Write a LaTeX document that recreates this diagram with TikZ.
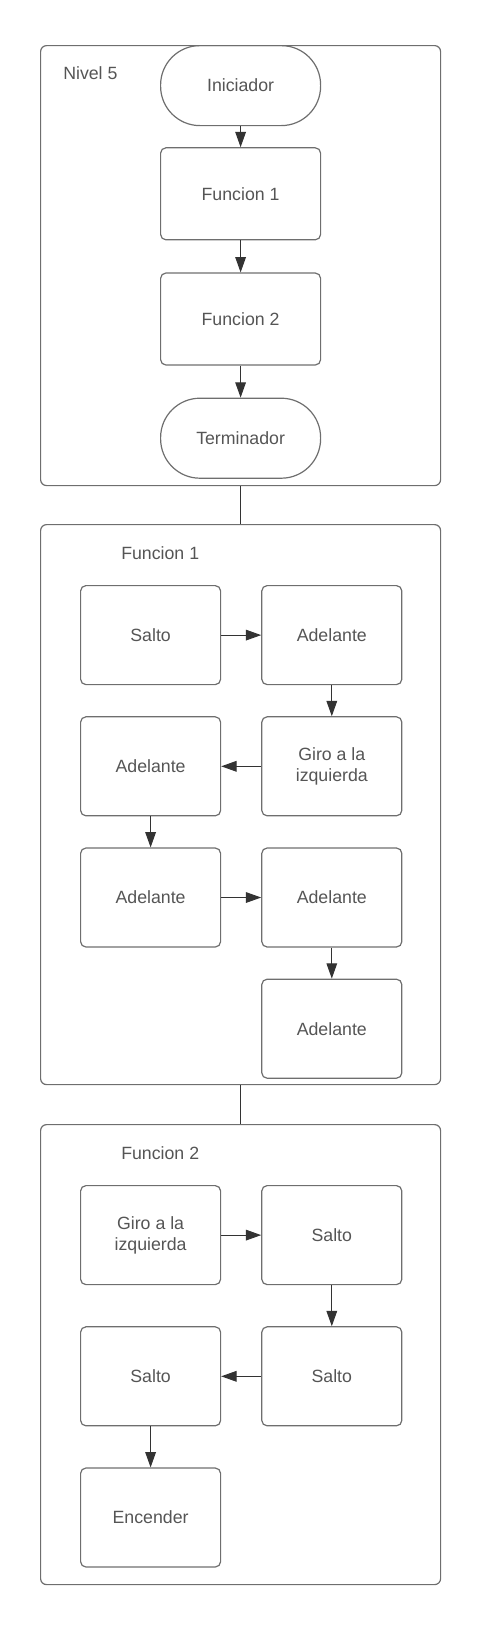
\documentclass[tikz,border=0pt]{standalone}
\usepackage{fontspec}
\setmainfont{Liberation Sans}
\usetikzlibrary{arrows.meta, positioning, calc}
\definecolor{linegray}{HTML}{6E6E6E}
\definecolor{textgray}{HTML}{555555}
\definecolor{arrowdark}{HTML}{333333}

\begin{document}
\begin{tikzpicture}[>={Triangle[length=11.5pt, width=8pt]},
  every node/.style={font=\fontsize{13.3}{15.5}\selectfont, text=textgray},
  panel/.style={draw=linegray, line width=0.9pt, rounded corners=4.5pt,
                minimum width=300pt, anchor=north west, inner sep=0pt},
  terminal/.style={draw=linegray, line width=0.9pt, rounded corners=29.5pt,
                   minimum width=120pt, minimum height=60pt},
  process/.style={draw=linegray, line width=0.9pt, rounded corners=4pt,
                  minimum width=120pt, minimum height=69pt},
  stepbox/.style={draw=linegray, line width=0.9pt, rounded corners=4pt,
                  minimum width=105pt, minimum height=74.25pt, align=center},
  title/.style={anchor=west, inner sep=0pt},
  flow/.style={->, draw=arrowdark, line width=0.75pt},
  link/.style={draw=arrowdark, line width=0.75pt}]
  \useasboundingbox (0,0) rectangle (360pt,-1218.75pt);

  % the three panels
  \node[panel, minimum height=330pt] (nivel) at (30pt,-33.75pt) {};
  \node[panel, minimum height=420pt] (fun1) at (30pt,-393pt) {};
  \node[panel, minimum height=345pt] (fun2) at (30pt,-843pt) {};

  % level 5
  \node[title] (lblnivel) at ($(nivel.north west)+(17.25pt,-21pt)$) {Nivel 5};
  \node[terminal, anchor=north] (ini) at (nivel.north) {Iniciador};
  \node[process, below=15.75pt of ini] (llf1) {Funcion 1};
  \node[process, below=24pt of llf1] (llf2) {Funcion 2};
  \node[terminal, below=24pt of llf2] (term) {Terminador};

  % function 1
  \node[title] (lblf1) at ($(fun1.north west)+(60.75pt,-21.75pt)$) {Funcion 1};
  \node[stepbox, anchor=north west] (a1)
    at ($(fun1.north west)+(30pt,-45.75pt)$) {Salto};
  \node[stepbox, right=30pt of a1] (a2) {Adelante};
  \node[stepbox, below=23.25pt of a2] (a3) {Giro a la\\izquierda};
  \node[stepbox, left=30pt of a3] (a4) {Adelante};
  \node[stepbox, below=23.25pt of a4] (a5) {Adelante};
  \node[stepbox, right=30pt of a5] (a6) {Adelante};
  \node[stepbox, below=23.25pt of a6] (a7) {Adelante};

  % function 2
  \node[title] (lblf2) at ($(fun2.north west)+(60.75pt,-21.75pt)$) {Funcion 2};
  \node[stepbox, anchor=north west] (b1)
    at ($(fun2.north west)+(30pt,-45.75pt)$) {Giro a la\\izquierda};
  \node[stepbox, right=30pt of b1] (b2) {Salto};
  \node[stepbox, below=30.75pt of b2] (b3) {Salto};
  \node[stepbox, left=30pt of b3] (b4) {Salto};
  \node[stepbox, below=30.75pt of b4] (b5) {Encender};

  \draw[flow] (ini) -- (llf1);
  \draw[flow] (llf1) -- (llf2);
  \draw[flow] (llf2) -- (term);
  \draw[link] (nivel.south) -- (fun1.north);
  \draw[link] (fun1.south) -- (fun2.north);

  \draw[flow] (a1) -- (a2);
  \draw[flow] (a2) -- (a3);
  \draw[flow] (a3) -- (a4);
  \draw[flow] (a4) -- (a5);
  \draw[flow] (a5) -- (a6);
  \draw[flow] (a6) -- (a7);

  \draw[flow] (b1) -- (b2);
  \draw[flow] (b2) -- (b3);
  \draw[flow] (b3) -- (b4);
  \draw[flow] (b4) -- (b5);
\end{tikzpicture}
\end{document}
